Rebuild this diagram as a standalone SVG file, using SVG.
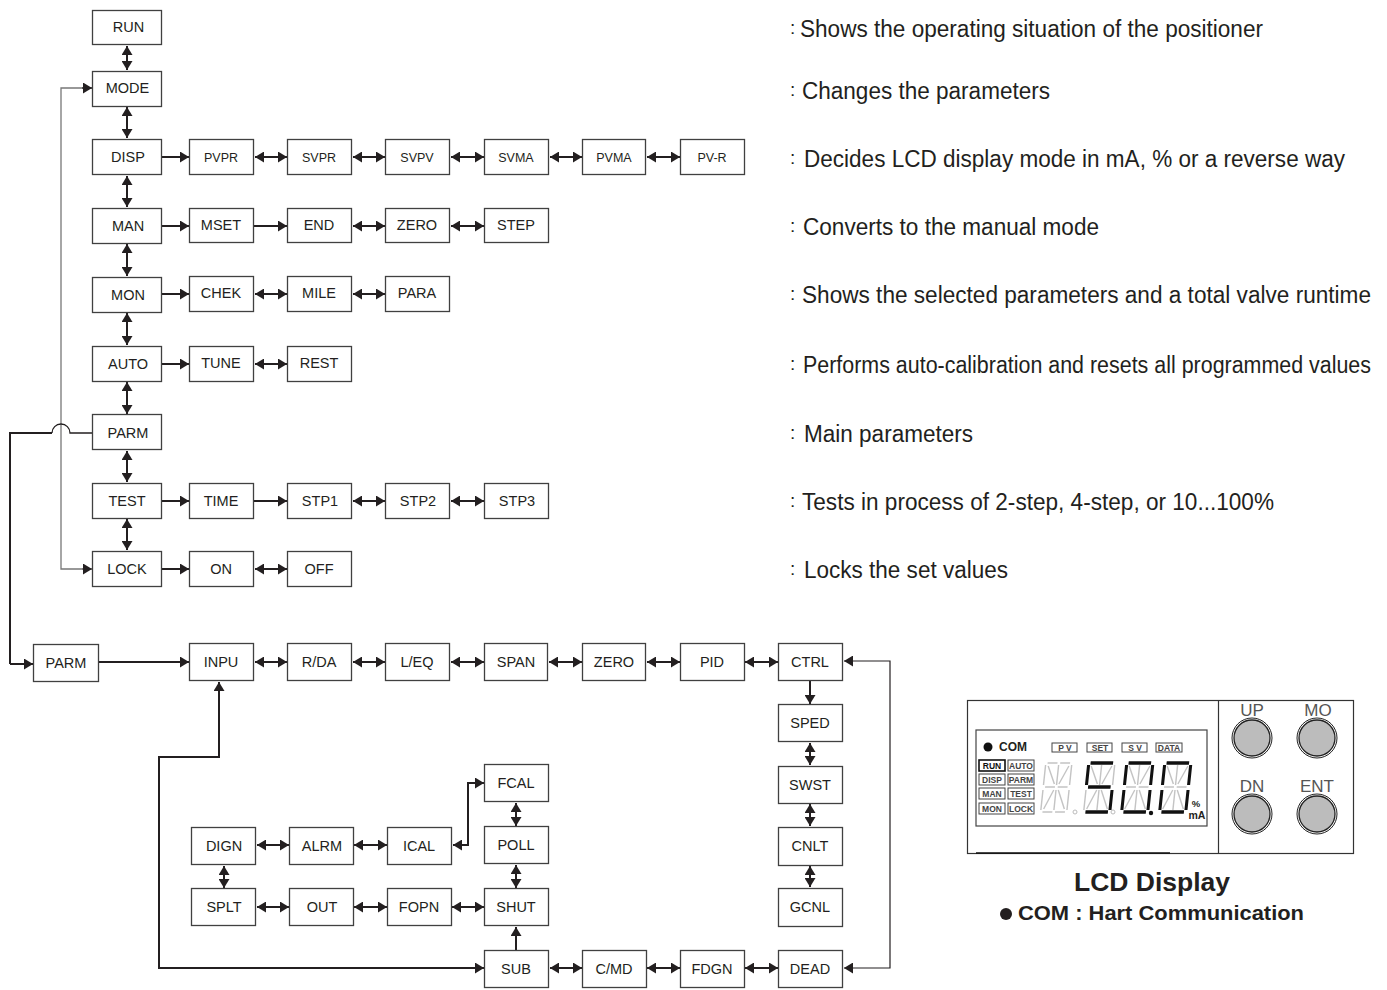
<svg xmlns="http://www.w3.org/2000/svg" xmlns:xlink="http://www.w3.org/1999/xlink" width="1387" height="990" viewBox="0 0 1387 990">
<style>
text{font-family:"Liberation Sans",Arial,sans-serif;fill:#231f20}
.b{fill:#fff;stroke:#404040;stroke-width:1.3}
.l{font-size:14.5px;text-anchor:middle}
.s{font-size:12.5px;text-anchor:middle}
.c{fill:none;stroke:#231f20;stroke-width:2;marker-end:url(#a)}
.d{fill:none;stroke:#231f20;stroke-width:2;marker-start:url(#a);marker-end:url(#a)}
.t{fill:none;stroke:#231f20;stroke-width:1.2;marker-end:url(#a)}
.p{fill:none;stroke:#231f20;stroke-width:2}
.g{fill:none;stroke:#777;stroke-width:1.3}
.ds{font-size:23px}
.co{font-size:19px}
.k{fill:#fff;stroke:#444;stroke-width:1}
.kt{font-size:8.5px;font-weight:bold;text-anchor:middle;fill:#444}
.btn{fill:#bcbcbc;stroke:#222;stroke-width:1.3}
.btn2{fill:none;stroke:#222;stroke-width:1}
.bl{font-size:17px;text-anchor:middle;fill:#555}
.seg{stroke:#c4c4c4;stroke-width:1.600;fill:none}
.on{stroke:#111;stroke-width:3.400;fill:none}
</style>
<defs>
<marker id="a" markerUnits="userSpaceOnUse" markerWidth="10" markerHeight="11" refX="9" refY="5.5" orient="auto-start-reverse"><path d="M0,0L9,5.5L0,11Z" fill="#231f20"/></marker>
<g id="dg" class="seg">
<path d="M3 1H14M17 1H28M1 3V23M1 28V48M30 3V23M30 28V48M3 25H14M17 25H28M3 50H14M17 50H28M15.500 3V23M15.500 28V48M4 4L13 22M27 4L18 22M13 28L4 47M18 28L27 47"/>
</g>
</defs>
<g id="connectors">
<path class="g" d="M92 88H61V569H82"/>
<path class="t" d="M82 88H92"/><path class="t" d="M82 569H92"/>
<path class="p" d="M10 664V433H52"/>
<path class="p" style="stroke-width:1.300" d="M52 433A9 9 0 0 1 70 433H92"/>
<path class="c" d="M10 664H33"/>
<path class="d" d="M127 46V70"/><path class="d" d="M127 107V138"/><path class="d" d="M127 176V207"/><path class="d" d="M127 244V276"/><path class="d" d="M127 313V345"/><path class="d" d="M127 382V414"/><path class="d" d="M127 451V482"/><path class="d" d="M127 519V550"/>
<path class="c" d="M162 157H189"/><path class="d" d="M255 157H287"/><path class="d" d="M353 157H385"/><path class="d" d="M451 157H484"/><path class="d" d="M550 157H582"/><path class="d" d="M647 157H680"/>
<path class="c" d="M162 226H189"/><path class="c" d="M254 226H287"/><path class="d" d="M353 226H385"/><path class="d" d="M451 226H484"/>
<path class="c" d="M162 294H189"/><path class="d" d="M255 294H287"/><path class="d" d="M353 294H385"/>
<path class="c" d="M162 364H189"/><path class="d" d="M255 364H287"/>
<path class="c" d="M162 501H189"/><path class="c" d="M254 501H287"/><path class="d" d="M353 501H385"/><path class="d" d="M451 501H484"/>
<path class="c" d="M162 569H189"/><path class="d" d="M255 569H287"/>
<path class="c" d="M99 662H189"/><path class="d" d="M255 662H287"/><path class="d" d="M353 662H385"/><path class="d" d="M451 662H484"/><path class="d" d="M549 662H582"/><path class="d" d="M647 662H680"/><path class="d" d="M745 662H778"/>
<path class="c" d="M810 681V704"/><path class="d" d="M810 743V765"/><path class="d" d="M810 804V826"/><path class="d" d="M810 866V887"/>
<path class="t" style="marker-start:url(#a)" d="M844 968H890V661H844"/>
<path class="d" d="M484 968H159V757H219V682"/>
<path class="d" d="M550 968H582"/><path class="d" d="M647 968H680"/><path class="d" d="M745 968H778"/>
<path class="c" d="M516 950V927"/>
<path class="d" d="M516 803V826"/><path class="d" d="M516 865V888"/>
<path class="d" d="M453 845H468V783H484"/>
<path class="d" d="M452 907H484"/><path class="d" d="M354 907H387"/><path class="d" d="M257 907H289"/>
<path class="d" d="M354 845H387"/><path class="d" d="M257 845H289"/>
<path class="d" d="M224 866V888"/>
</g>
<g id="n-run"><rect class="b" x="92.500" y="10.500" width="69" height="34"/><text class="l" x="128.500" y="32">RUN</text></g>
<g id="n-mode"><rect class="b" x="92.500" y="71.500" width="69" height="35"/><text class="l" x="127.500" y="93">MODE</text></g>
<g id="n-disp"><rect class="b" x="92.500" y="139.500" width="69" height="35"/><text class="l" x="128" y="162">DISP</text></g>
<g id="n-man"><rect class="b" x="92.500" y="208.500" width="69" height="35"/><text class="l" x="128" y="231">MAN</text></g>
<g id="n-mon"><rect class="b" x="92.500" y="277.500" width="69" height="35"/><text class="l" x="128" y="300">MON</text></g>
<g id="n-auto"><rect class="b" x="92.500" y="346.500" width="69" height="35"/><text class="l" x="128" y="369">AUTO</text></g>
<g id="n-parm"><rect class="b" x="92.500" y="414.500" width="69" height="35"/><text class="l" x="128" y="438">PARM</text></g>
<g id="n-test"><rect class="b" x="92.500" y="483.500" width="69" height="35"/><text class="l" x="127" y="506">TEST</text></g>
<g id="n-lock"><rect class="b" x="92.500" y="551.500" width="69" height="35"/><text class="l" x="127" y="574">LOCK</text></g>
<g id="n-pvpr"><rect class="b" x="189.500" y="139.500" width="64" height="35"/><text class="s" x="221" y="162">PVPR</text></g>
<g id="n-svpr"><rect class="b" x="287.500" y="139.500" width="64" height="35"/><text class="s" x="319" y="162">SVPR</text></g>
<g id="n-svpv"><rect class="b" x="385.500" y="139.500" width="64" height="35"/><text class="s" x="417" y="162">SVPV</text></g>
<g id="n-svma"><rect class="b" x="484.500" y="139.500" width="64" height="35"/><text class="s" x="516" y="162">SVMA</text></g>
<g id="n-pvma"><rect class="b" x="582.500" y="139.500" width="63" height="35"/><text class="s" x="614" y="162">PVMA</text></g>
<g id="n-pvr"><rect class="b" x="680.500" y="139.500" width="64" height="35"/><text class="s" x="712" y="162">PV-R</text></g>
<g id="n-mset"><rect class="b" x="189.500" y="208.500" width="64" height="34"/><text class="l" x="221" y="230">MSET</text></g>
<g id="n-end"><rect class="b" x="287.500" y="208.500" width="64" height="34"/><text class="l" x="319" y="230">END</text></g>
<g id="n-zero"><rect class="b" x="385.500" y="208.500" width="64" height="34"/><text class="l" x="417" y="230">ZERO</text></g>
<g id="n-step"><rect class="b" x="484.500" y="208.500" width="64" height="34"/><text class="l" x="516" y="230">STEP</text></g>
<g id="n-chek"><rect class="b" x="189.500" y="276.500" width="64" height="35"/><text class="l" x="221" y="298">CHEK</text></g>
<g id="n-mile"><rect class="b" x="287.500" y="276.500" width="64" height="35"/><text class="l" x="319" y="298">MILE</text></g>
<g id="n-para"><rect class="b" x="385.500" y="276.500" width="64" height="35"/><text class="l" x="417" y="298">PARA</text></g>
<g id="n-tune"><rect class="b" x="189.500" y="346.500" width="64" height="35"/><text class="l" x="221" y="368">TUNE</text></g>
<g id="n-rest"><rect class="b" x="287.500" y="346.500" width="64" height="35"/><text class="l" x="319" y="368">REST</text></g>
<g id="n-time"><rect class="b" x="189.500" y="483.500" width="64" height="35"/><text class="l" x="221" y="506">TIME</text></g>
<g id="n-stp1"><rect class="b" x="287.500" y="483.500" width="64" height="35"/><text class="l" x="320" y="506">STP1</text></g>
<g id="n-stp2"><rect class="b" x="385.500" y="483.500" width="64" height="35"/><text class="l" x="418" y="506">STP2</text></g>
<g id="n-stp3"><rect class="b" x="484.500" y="483.500" width="64" height="35"/><text class="l" x="517" y="506">STP3</text></g>
<g id="n-on"><rect class="b" x="189.500" y="551.500" width="64" height="35"/><text class="l" x="221" y="574">ON</text></g>
<g id="n-off"><rect class="b" x="287.500" y="551.500" width="64" height="35"/><text class="l" x="319" y="574">OFF</text></g>
<g id="n-parm2"><rect class="b" x="33.500" y="644.500" width="65" height="37"/><text class="l" x="66" y="668">PARM</text></g>
<g id="n-inpu"><rect class="b" x="189.500" y="643.500" width="64" height="37"/><text class="l" x="221" y="667">INPU</text></g>
<g id="n-rda"><rect class="b" x="287.500" y="643.500" width="64" height="37"/><text class="l" x="319" y="667">R/DA</text></g>
<g id="n-leq"><rect class="b" x="385.500" y="643.500" width="64" height="37"/><text class="l" x="417" y="667">L/EQ</text></g>
<g id="n-span"><rect class="b" x="484.500" y="643.500" width="63" height="37"/><text class="l" x="516" y="667">SPAN</text></g>
<g id="n-zero2"><rect class="b" x="582.500" y="643.500" width="63" height="37"/><text class="l" x="614" y="667">ZERO</text></g>
<g id="n-pid"><rect class="b" x="680.500" y="643.500" width="64" height="37"/><text class="l" x="712" y="667">PID</text></g>
<g id="n-ctrl"><rect class="b" x="778.500" y="643.500" width="64" height="37"/><text class="l" x="810" y="667">CTRL</text></g>
<g id="n-sped"><rect class="b" x="778.500" y="704.500" width="64" height="37"/><text class="l" x="810" y="728">SPED</text></g>
<g id="n-swst"><rect class="b" x="778.500" y="766.500" width="64" height="37"/><text class="l" x="810" y="790">SWST</text></g>
<g id="n-cnlt"><rect class="b" x="778.500" y="827.500" width="64" height="38"/><text class="l" x="810" y="851">CNLT</text></g>
<g id="n-gcnl"><rect class="b" x="778.500" y="888.500" width="64" height="38"/><text class="l" x="810" y="912">GCNL</text></g>
<g id="n-dead"><rect class="b" x="778.500" y="950.500" width="64" height="37"/><text class="l" x="810" y="974">DEAD</text></g>
<g id="n-fdgn"><rect class="b" x="680.500" y="950.500" width="64" height="37"/><text class="l" x="712" y="974">FDGN</text></g>
<g id="n-cmd"><rect class="b" x="582.500" y="950.500" width="64" height="37"/><text class="l" x="614" y="974">C/MD</text></g>
<g id="n-sub"><rect class="b" x="484.500" y="950.500" width="64" height="37"/><text class="l" x="516" y="974">SUB</text></g>
<g id="n-shut"><rect class="b" x="484.500" y="888.500" width="64" height="37"/><text class="l" x="516" y="912">SHUT</text></g>
<g id="n-poll"><rect class="b" x="484.500" y="826.500" width="64" height="37"/><text class="l" x="516" y="850">POLL</text></g>
<g id="n-fcal"><rect class="b" x="484.500" y="764.500" width="64" height="37"/><text class="l" x="516" y="788">FCAL</text></g>
<g id="n-ical"><rect class="b" x="387.500" y="827.500" width="64" height="37"/><text class="l" x="419" y="851">ICAL</text></g>
<g id="n-alrm"><rect class="b" x="289.500" y="827.500" width="64" height="37"/><text class="l" x="322" y="851">ALRM</text></g>
<g id="n-dign"><rect class="b" x="191.500" y="827.500" width="64" height="37"/><text class="l" x="224" y="851">DIGN</text></g>
<g id="n-splt"><rect class="b" x="191.500" y="888.500" width="64" height="37"/><text class="l" x="224" y="912">SPLT</text></g>
<g id="n-out"><rect class="b" x="289.500" y="888.500" width="64" height="37"/><text class="l" x="322" y="912">OUT</text></g>
<g id="n-fopn"><rect class="b" x="387.500" y="888.500" width="64" height="37"/><text class="l" x="419" y="912">FOPN</text></g>
<g id="descriptions">
<text class="ds" x="790" y="37"><tspan class="co" y="34">:</tspan> <tspan x="800" y="37" textLength="463" lengthAdjust="spacingAndGlyphs">Shows the operating situation of the positioner</tspan></text>
<text class="ds" x="790" y="99"><tspan class="co" y="96">:</tspan> <tspan x="802" y="99" textLength="248" lengthAdjust="spacingAndGlyphs">Changes the parameters</tspan></text>
<text class="ds" x="790" y="167"><tspan class="co" y="164">:</tspan> <tspan x="804" y="167" textLength="541" lengthAdjust="spacingAndGlyphs">Decides LCD display mode in mA, % or a reverse way</tspan></text>
<text class="ds" x="790" y="235"><tspan class="co" y="232">:</tspan> <tspan x="803" y="235" textLength="296" lengthAdjust="spacingAndGlyphs">Converts to the manual mode</tspan></text>
<text class="ds" x="790" y="303"><tspan class="co" y="300">:</tspan> <tspan x="802" y="303" textLength="569" lengthAdjust="spacingAndGlyphs">Shows the selected parameters and a total valve runtime</tspan></text>
<text class="ds" x="790" y="373"><tspan class="co" y="370">:</tspan> <tspan x="803" y="373" textLength="568" lengthAdjust="spacingAndGlyphs">Performs auto-calibration and resets all programmed values</tspan></text>
<text class="ds" x="790" y="442"><tspan class="co" y="439">:</tspan> <tspan x="804" y="442" textLength="169" lengthAdjust="spacingAndGlyphs">Main parameters</tspan></text>
<text class="ds" x="790" y="510"><tspan class="co" y="507">:</tspan> <tspan x="802" y="510" textLength="472" lengthAdjust="spacingAndGlyphs">Tests in process of 2-step, 4-step, or 10...100%</tspan></text>
<text class="ds" x="790" y="578"><tspan class="co" y="575">:</tspan> <tspan x="804" y="578" textLength="204" lengthAdjust="spacingAndGlyphs">Locks the set values</tspan></text>
</g>
<g id="lcd">
<rect x="967.500" y="700.500" width="386" height="153" fill="#fff" stroke="#333" stroke-width="1.200"/>
<path d="M976 853H1170" stroke="#111" stroke-width="1.500"/>
<path d="M1218.500 700V853" stroke="#333" stroke-width="1.200"/>
<rect x="976" y="730" width="231" height="96" fill="#fff" stroke="#444" stroke-width="1.200"/>
<circle cx="988" cy="747" r="4.500" fill="#111"/>
<text x="999" y="751" font-size="13" font-weight="bold" fill="#111" textLength="28" lengthAdjust="spacingAndGlyphs">COM</text>
<rect class="k" x="1052" y="743" width="25" height="9"/><text class="kt" x="1065" y="751">P  V</text>
<rect class="k" x="1087" y="743" width="25" height="9"/><text class="kt" x="1100" y="751">SET</text>
<rect class="k" x="1122" y="743" width="25" height="9"/><text class="kt" x="1135" y="751">S  V</text>
<rect class="k" x="1156" y="743" width="26" height="9"/><text class="kt" x="1169" y="751">DATA</text>
<rect class="k" x="979" y="760" width="26" height="11" style="stroke-width:1.600;stroke:#111"/><text class="kt" x="992" y="769" style="fill:#111">RUN</text>
<rect class="k" x="1008" y="760" width="26" height="11"/><text class="kt" x="1021" y="769">AUTO</text>
<rect class="k" x="979" y="774" width="26" height="11"/><text class="kt" x="992" y="783">DISP</text>
<rect class="k" x="1008" y="774" width="26" height="11"/><text class="kt" x="1021" y="783">PARM</text>
<rect class="k" x="979" y="788" width="26" height="11"/><text class="kt" x="992" y="797">MAN</text>
<rect class="k" x="1008" y="788" width="26" height="11"/><text class="kt" x="1021" y="797">TEST</text>
<rect class="k" x="979" y="803" width="26" height="11"/><text class="kt" x="992" y="812">MON</text>
<rect class="k" x="1008" y="803" width="26" height="11"/><text class="kt" x="1021" y="812">LOCK</text>
<use xlink:href="#dg" href="#dg" transform="translate(1045 762) skewX(-6) scale(.9 1)"/>
<use xlink:href="#dg" href="#dg" transform="translate(1088 762) skewX(-6) scale(.9 1)"/>
<use xlink:href="#dg" href="#dg" transform="translate(1126 762) skewX(-6) scale(.9 1)"/>
<use xlink:href="#dg" href="#dg" transform="translate(1164 762) skewX(-6) scale(.9 1)"/>
<path class="on" transform="translate(1088 762) skewX(-6) scale(.9 1)" d="M3 1H28M1 3V23M3 25H28M30 28V48M3 50H28"/>
<path class="on" transform="translate(1126 762) skewX(-6) scale(.9 1)" d="M3 1H28M1 3V23M30 3V23M1 28V48M30 28V48M3 50H28"/>
<path class="on" transform="translate(1164 762) skewX(-6) scale(.9 1)" d="M3 1H28M1 3V23M30 3V23M1 28V48M30 28V48M3 50H28"/>
<circle cx="1151" cy="813" r="2.200" fill="#111"/>
<circle cx="1075" cy="812" r="2" fill="none" stroke="#bbb"/><circle cx="1113" cy="812" r="2" fill="none" stroke="#bbb"/>
<text x="1196" y="807" font-size="9.500" font-weight="bold" text-anchor="middle" fill="#111">%</text>
<text x="1197" y="819" font-size="10.500" font-weight="bold" text-anchor="middle" fill="#111">mA</text>
<circle class="btn" cx="1252" cy="738" r="18"/><circle class="btn2" cx="1252" cy="738" r="20"/>
<circle class="btn" cx="1317" cy="738" r="18"/><circle class="btn2" cx="1317" cy="738" r="20"/>
<circle class="btn" cx="1252" cy="814" r="18"/><circle class="btn2" cx="1252" cy="814" r="20"/>
<circle class="btn" cx="1317" cy="814" r="18"/><circle class="btn2" cx="1317" cy="814" r="20"/>
<text class="bl" x="1252" y="716">UP</text><text class="bl" x="1318" y="716">MO</text>
<text class="bl" x="1252" y="792">DN</text><text class="bl" x="1317" y="792">ENT</text>
<text x="1152" y="891" font-size="25" font-weight="bold" text-anchor="middle" textLength="156" lengthAdjust="spacingAndGlyphs">LCD Display</text>
<circle cx="1006" cy="914" r="6" fill="#231f20"/>
<text x="1018" y="920" font-size="21" font-weight="bold" textLength="286" lengthAdjust="spacingAndGlyphs">COM : Hart Communication</text>
</g>
</svg>
